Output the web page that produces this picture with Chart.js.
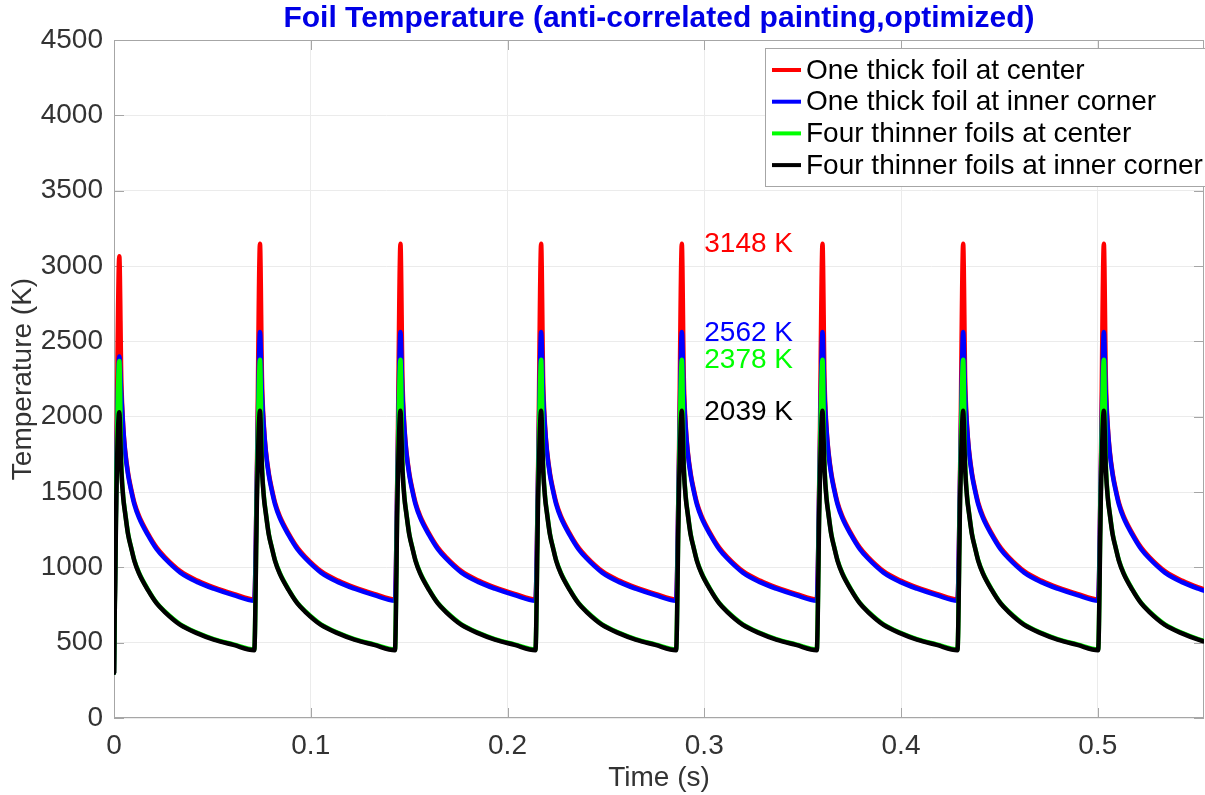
<!DOCTYPE html>
<html>
<head>
<meta charset="utf-8">
<title>Foil Temperature</title>
<script src="https://cdn.jsdelivr.net/npm/chart.js@4.4.1/dist/chart.umd.min.js"></script>
<style>
  html, body { margin: 0; padding: 0; background: #fff; overflow: hidden; }
  #wrap { width: 1205px; height: 795px; }
</style>
</head>
<body>
<div id="wrap"><canvas id="foilChart" width="1205" height="795"></canvas></div>
<script>
// series names, in legend order
const seriesNames = ['One thick foil at center', 'One thick foil at inner corner', 'Four thinner foils at center', 'Four thinner foils at inner corner'];
const seriesColors = ['#ff0000', '#0000ff', '#00ff00', '#000000'];

// time of each beam pulse peak (s)
const peakTimes = [0.0027, 0.0742, 0.1456, 0.2171, 0.2886, 0.3601, 0.4316, 0.5031];
const initialTemp = 300;
const riseLead = 0.0015;                 // mid-rise sample, seconds before the peak
const riseTemps = [1700, 1650, 1550, 1480];
const firstPeaks = [3065, 2400, 2370, 2030];

// cooling after each peak: time since peak (s) and temperature (K)
const pulseOffsets = [0, 0.001, 0.002, 0.003, 0.0045, 0.006, 0.0076, 0.010, 0.0145, 0.019, 0.023, 0.031, 0.040, 0.048, 0.058, 0.0686];
const redPulse   = [3148, 2260, 1935, 1772, 1622, 1522, 1432, 1342, 1226, 1131, 1070, 975, 910, 867, 824, 786];
const bluePulse  = [2562, 2150, 1920, 1760, 1610, 1510, 1420, 1330, 1215, 1120, 1060, 965, 900, 858, 815, 778];
const greenPulse = [2378, 1700, 1470, 1360, 1220, 1134, 1049, 964, 854, 764, 709, 622, 564, 524, 489, 454];
const blackPulse = [2039, 1650, 1460, 1355, 1215, 1130, 1045, 960, 850, 760, 705, 618, 560, 520, 485, 450];
const pulses = [redPulse, bluePulse, greenPulse, blackPulse];

const xTicks = [0, 0.1, 0.2, 0.3, 0.4, 0.5];
const yTicks = [0, 500, 1000, 1500, 2000, 2500, 3000, 3500, 4000, 4500];
const labelTime = 0.3;

function buildSeries(i) {
  const pts = [{x: 0, y: initialTemp}];
  peakTimes.forEach((tp, k) => {
    pts.push({x: tp - riseLead, y: riseTemps[i]});
    pulseOffsets.forEach((dt, j) => {
      const T = (k === 0 && j === 0) ? firstPeaks[i] : pulses[i][j];
      pts.push({x: tp + dt, y: T});
    });
  });
  return pts;
}

const font = 'Liberation Sans, Arial, Helvetica, sans-serif';
const textColor = '#333333';

// axes box + inward tick marks, MATLAB style
const axesBox = {
  id: 'axesBox',
  beforeDatasetsDraw(chart) {
    const {ctx, chartArea: a, scales: {x, y}} = chart;
    ctx.save();
    ctx.strokeStyle = '#a6a6a6';
    ctx.lineWidth = 1;
    ctx.strokeRect(a.left + 0.5, a.top + 0.5, a.right - a.left - 1, a.bottom - a.top - 1);
    ctx.beginPath();
    xTicks.forEach(v => {
      const px = Math.round(x.getPixelForValue(v)) + 0.5;
      ctx.moveTo(px, a.bottom); ctx.lineTo(px, a.bottom - 10);
      ctx.moveTo(px, a.top); ctx.lineTo(px, a.top + 10);
    });
    yTicks.forEach(v => {
      const py = Math.round(y.getPixelForValue(v)) + 0.5;
      ctx.moveTo(a.left, py); ctx.lineTo(a.left + 10, py);
      ctx.moveTo(a.right, py); ctx.lineTo(a.right - 10, py);
    });
    ctx.stroke();
    ctx.restore();
  }
};

// peak value labels and the boxed legend
const overlay = {
  id: 'overlay',
  afterDatasetsDraw(chart) {
    const {ctx, scales: {x, y}} = chart;
    ctx.save();
    ctx.font = '28px ' + font;
    ctx.textAlign = 'left';
    ctx.textBaseline = 'middle';
    pulses.forEach((p, i) => {
      ctx.fillStyle = seriesColors[i];
      ctx.fillText(p[0] + ' K', x.getPixelForValue(labelTime), y.getPixelForValue(p[0]) + 1);
    });

    const bx = 765.5, by = 48.5, bw = 440, bh = 138;
    ctx.fillStyle = '#ffffff';
    ctx.fillRect(bx, by, bw, bh);
    ctx.strokeStyle = '#a6a6a6';
    ctx.lineWidth = 1;
    ctx.strokeRect(bx, by, bw, bh);
    ctx.font = '28px ' + font;
    chart.data.datasets.forEach((ds, i) => {
      const cy = 70 + i * 31.7;
      ctx.strokeStyle = ds.borderColor;
      ctx.lineWidth = 4;
      ctx.beginPath();
      ctx.moveTo(772, cy); ctx.lineTo(801, cy);
      ctx.stroke();
      ctx.fillStyle = '#000000';
      ctx.fillText(ds.label, 806, cy + 1);
    });
    ctx.restore();
  }
};

new Chart(document.getElementById('foilChart'), {
  type: 'line',
  data: {
    datasets: seriesNames.map((name, i) => ({
      label: name,
      data: buildSeries(i),
      borderColor: seriesColors[i],
      backgroundColor: seriesColors[i],
      borderWidth: 4.5,
      borderJoinStyle: 'round',
      borderCapStyle: 'round',
      cubicInterpolationMode: 'monotone',
      pointRadius: 0,
      order: seriesNames.length - 1 - i   // black drawn last, on top
    }))
  },
  options: {
    responsive: false,
    animation: false,
    layout: { padding: { top: 0, right: 1, bottom: 0, left: 0 } },
    plugins: {
      legend: { display: false },
      tooltip: { enabled: false },
      title: {
        display: true,
        fullSize: false,
        text: 'Foil Temperature (anti-correlated painting,optimized)',
        color: '#0000e6',
        font: { family: font, size: 30, weight: 'bold', lineHeight: 1.2 },
        padding: { top: 1, bottom: 3 }
      }
    },
    scales: {
      x: {
        type: 'linear',
        min: 0,
        max: 0.554,
        afterBuildTicks: s => { s.ticks = xTicks.map(v => ({value: v})); },
        afterFit: s => { s.height = 77; },
        grid: { color: '#ebebeb', drawTicks: false },
        border: { display: false },
        ticks: { color: textColor, padding: 11, font: { family: font, size: 28 }, callback: v => String(v) },
        title: { display: true, text: 'Time (s)', color: textColor, font: { family: font, size: 28, lineHeight: 1.2 }, padding: { top: 0, bottom: 0 } }
      },
      y: {
        min: 0,
        max: 4500,
        afterBuildTicks: s => { s.ticks = yTicks.map(v => ({value: v})); },
        afterFit: s => { s.width = 114; },
        grid: { color: '#ebebeb', drawTicks: false },
        border: { display: false },
        ticks: { color: textColor, padding: 11, font: { family: font, size: 28 }, callback: v => String(v) },
        title: { display: true, text: 'Temperature (K)', color: textColor, font: { family: font, size: 28, lineHeight: 1.2 }, padding: { top: 6, bottom: 0 } }
      }
    }
  },
  plugins: [axesBox, overlay]
});
</script>
</body>
</html>
